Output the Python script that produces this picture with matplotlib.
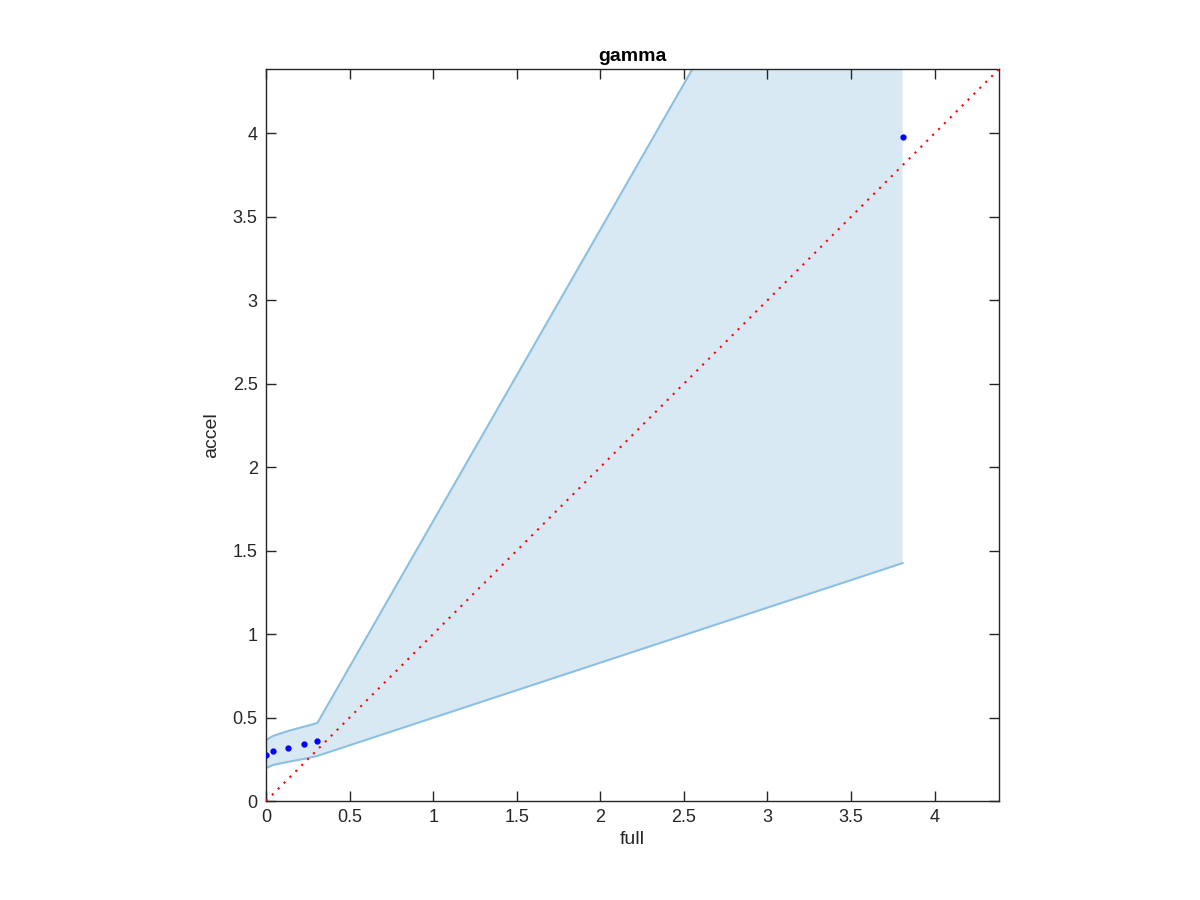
import numpy as np
import matplotlib
matplotlib.use("Agg")
from matplotlib import pyplot as plt

# data
full = [0.0, 0.042, 0.134, 0.226, 0.307, 3.808]
accel = [0.275, 0.297, 0.319, 0.341, 0.361, 3.98]
band_hi = [0.365, 0.39, 0.42, 0.445, 0.467, 6.58]
band_lo = [0.197, 0.216, 0.235, 0.252, 0.27, 1.425]
lim = 4.385
ticks = [0, 0.5, 1, 1.5, 2, 2.5, 3, 3.5, 4]
tick_labels = ["0", "0.5", "1", "1.5", "2", "2.5", "3", "3.5", "4"]


def main():
    plt.rcParams['font.family'] = ['Liberation Sans', 'DejaVu Sans']
    fig = plt.figure(figsize=(12, 9), dpi=100)
    ax = fig.add_axes([0.2217, 0.11, 0.6108, 0.8133])

    ax.fill_between(full, band_lo, band_hi, facecolor='#d9e9f4', edgecolor='none', zorder=1)
    ax.plot(full, band_hi, color='#8cc0e2', lw=1.5, zorder=2)
    ax.plot(full, band_lo, color='#8cc0e2', lw=1.5, zorder=2)
    ax.plot([0, lim], [0, lim], color='red', ls=(0, (1, 3)), lw=1.5, zorder=3)
    ax.plot(full, accel, ls='none', marker='o', ms=3.5, color='blue', zorder=4)

    ax.set_xlim(0, lim)
    ax.set_ylim(0, lim)
    ax.set_xticks(ticks)
    ax.set_xticklabels(tick_labels)
    ax.set_yticks(ticks)
    ax.set_yticklabels(tick_labels)
    ax.tick_params(direction='in', length=7, width=1, colors='#262626', labelsize=13,
                   top=True, right=True, pad=6)
    for s in ax.spines.values():
        s.set_color('#262626')
        s.set_linewidth(1)
    ax.set_xlabel('full', fontsize=14, color='#262626', labelpad=3)
    ax.set_ylabel('accel', fontsize=14, color='#262626', labelpad=9)
    ax.set_title('gamma', fontsize=14, fontweight='bold', pad=6)

    fig.savefig('out.png', dpi=100)


if __name__ == "__main__":
    main()
